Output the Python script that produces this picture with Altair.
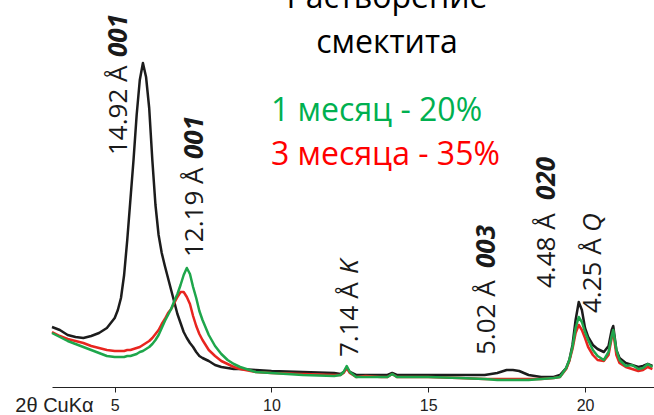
import altair as alt
import pandas as pd

# 2θ grid (degrees, CuKα)
two_theta = [3.0, 3.25, 3.5, 3.75, 4.0, 4.25, 4.5, 4.75, 5.0, 5.1, 5.2, 5.3, 5.4, 5.5, 5.6, 5.7, 5.8, 5.9,
             6.0, 6.1, 6.2, 6.3, 6.4, 6.5, 6.6, 6.7, 6.8, 6.9, 7.0, 7.1, 7.2, 7.3, 7.4, 7.5, 7.6, 7.7, 7.8,
             8.0, 8.2, 8.4, 8.6, 8.8, 9.0, 9.5, 10.0, 11.0, 12.0, 12.2, 12.3, 12.4, 12.5, 12.7, 13.0, 13.5,
             13.7, 13.85, 14.0, 14.5, 15.0, 16.0, 16.8, 17.2, 17.5, 17.7, 17.9, 18.2, 18.6, 19.0, 19.2,
             19.4, 19.5, 19.6, 19.7, 19.8, 19.9, 20.0, 20.1, 20.25, 20.4, 20.6, 20.75, 20.85, 20.9, 21.0,
             21.1, 21.3, 21.5, 21.7, 21.85, 22.0, 22.15]

# intensities (arbitrary units)
initial = [60, 57, 52, 50, 49, 51, 54, 59, 69, 77, 89, 112, 147, 187, 227, 272, 307, 324,
           310, 279, 227, 182, 152, 134, 121, 109, 97, 85, 73, 64, 55, 49, 44, 40, 35, 31, 29,
           26, 22, 20, 19, 18, 18, 17, 16, 15, 14, 13, 15, 19, 15, 12, 12, 12,
           12, 14, 12, 12, 12, 12, 12, 14, 17, 17, 16, 12, 10, 10, 12,
           19, 27, 42, 67, 85, 77, 59, 50, 42, 38, 35, 41, 57, 61, 37,
           29, 24, 22, 20, 21, 23, 21]

month3 = [55, 51, 48, 46, 44, 41, 39, 37, 36, 36, 36, 36, 37, 37, 38, 39, 40, 42,
          44, 46, 49, 53, 57, 63, 68, 74, 78, 84, 90, 95, 95, 90, 83, 71, 61, 53, 47,
          37, 31, 26, 23, 20, 18, 15, 14, 13, 12, 12, 14, 19, 14, 10, 11, 10,
          10, 13, 10, 10, 10, 9, 8, 8, 8, 8, 8, 8, 8, 9, 10,
          18, 26, 38, 54, 62, 57, 49, 40, 32, 27, 26, 32, 49, 56, 32,
          24, 20, 18, 16, 17, 20, 18]

month1 = [54, 50, 46, 43, 40, 37, 34, 31, 30, 30, 30, 30, 31, 31, 32, 33, 35, 36,
          38, 40, 43, 47, 52, 59, 66, 72, 78, 86, 93, 102, 112, 119, 113, 100, 89, 76, 67,
          52, 41, 33, 27, 23, 20, 15, 14, 12, 11, 12, 15, 21, 15, 10, 10, 10,
          10, 13, 10, 10, 10, 9, 8, 7, 7, 7, 7, 7, 8, 9, 10,
          19, 27, 40, 59, 70, 65, 55, 47, 37, 31, 27, 35, 51, 57, 37,
          27, 21, 22, 18, 19, 23, 20]

series_names = ["исходный", "3 месяца", "1 месяц"]
series_colors = ["#1c1c1c", "#e8251f", "#1ea64b"]

# peak annotations
ann_main = ["14.92 Å", "12.19 Å", "7.14 Å", "5.02 Å", "4.48 Å", "4.25 Å"]
ann_x = [5.38, 7.81, 12.75, 17.14, 19.04, 20.5]
ann_y = [232, 130, 30, 32, 99, 74]
ann_idx = ["001", "001", "K", "003", "020", "Q"]
ann_idx_y = [330, 228, 113, 119, 187, 155]
ann_idx_bold = [True, True, False, True, True, False]

xdom = [3, 22.2]
ydom = [0, 387]

xs = alt.X("t:Q", scale=alt.Scale(domain=xdom, nice=False, zero=False),
           axis=alt.Axis(values=[5, 10, 15, 20], grid=False, domainColor="#222", domainWidth=1,
                         tickColor="#222", tickSize=5, labelFont="Liberation Sans", labelFontSize=16,
                         labelColor="#222", labelPadding=5, title="2θ CuKα",
                         titleFont="Liberation Sans", titleFontSize=20, titleFontWeight="normal",
                         titleColor="#222", titleX=2, titleY=24, titleAlign="center",
                         titleBaseline="alphabetic", titleAnchor="start"))
ys = alt.Y("I:Q", scale=alt.Scale(domain=ydom, nice=False, zero=False), axis=None)

layers = []
for name, vals, col in zip(series_names, [initial, month3, month1], series_colors):
    df = pd.DataFrame({"t": two_theta, "I": vals})
    layers.append(alt.Chart(df).mark_line(color=col, strokeWidth=2.5, strokeJoin="round").encode(x=xs, y=ys))

ann_df = pd.DataFrame({"t": ann_x, "I": ann_y, "label": ann_main})
layers.append(alt.Chart(ann_df).mark_text(angle=270, align="left", baseline="alphabetic",
                                          font="Open Sans", fontSize=26, color="#1a1a1a")
              .encode(x=xs, y=ys, text="label:N"))

idx_df = pd.DataFrame({"t": ann_x, "I": ann_idx_y, "label": ann_idx, "bold": ann_idx_bold})
layers.append(alt.Chart(idx_df[idx_df["bold"]]).mark_text(angle=270, align="left", baseline="alphabetic",
                                                          font="Open Sans", fontSize=26, fontWeight="bold",
                                                          fontStyle="italic", color="#1a1a1a")
              .encode(x=xs, y=ys, text="label:N"))
layers.append(alt.Chart(idx_df[~idx_df["bold"]]).mark_text(angle=270, align="left", baseline="alphabetic",
                                                           font="Open Sans", fontSize=26,
                                                           fontStyle="italic", color="#1a1a1a")
              .encode(x=xs, y=ys, text="label:N"))

title_lines = ["Растворение", "смектита"]
legend_lines = ["1 месяц - 20%", "3 месяца - 35%"]
legend_colors = ["#00b050", "#ff0000"]

for i, line in enumerate(title_lines):
    layers.append(alt.Chart(pd.DataFrame({"txt": [line]})).mark_text(
        align="center", baseline="alphabetic", font="Open Sans", fontSize=32, color="#000")
        .encode(text="txt:N", x=alt.value(335), y=alt.value(8 + 45 * i)))
for i, (line, col) in enumerate(zip(legend_lines, legend_colors)):
    layers.append(alt.Chart(pd.DataFrame({"txt": [line]})).mark_text(
        align="left", baseline="alphabetic", font="Open Sans", fontSize=32, color=col)
        .encode(text="txt:N", x=alt.value(219), y=alt.value(121 + 44 * i)))

chart = alt.layer(*layers).properties(
    width=602, height=387,
    autosize=alt.AutoSizeParams(type="none"),
    padding={"left": 52, "top": 0, "right": 0, "bottom": 28},
    background="white",
).configure_view(stroke=None)

chart.save("out.html", embed_options={"renderer": "svg", "actions": False})
